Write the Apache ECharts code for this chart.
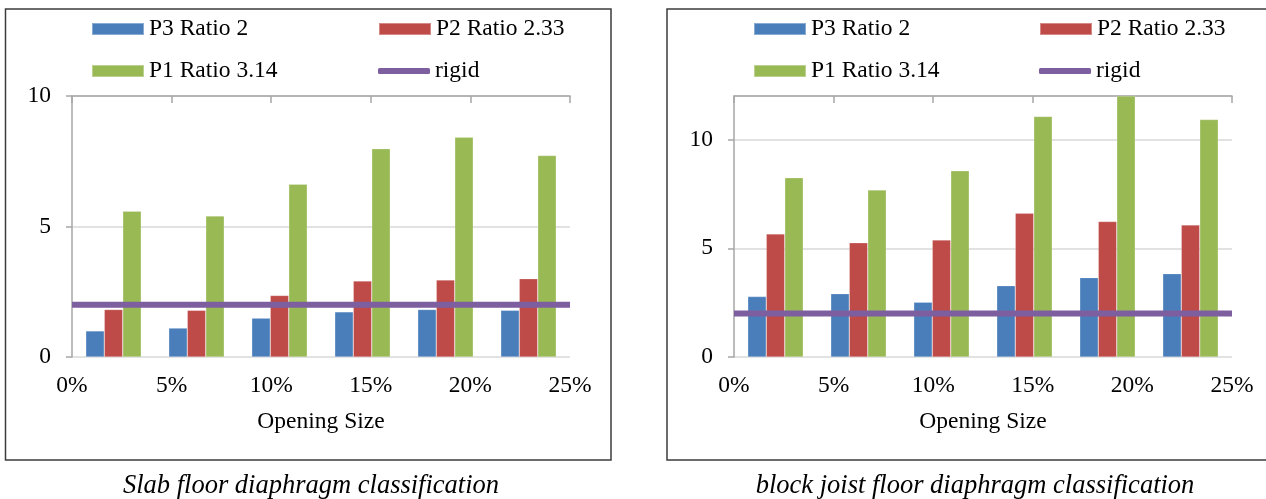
<!DOCTYPE html>
<html>
<head>
<meta charset="utf-8">
<script src="https://cdn.jsdelivr.net/npm/echarts@6/dist/echarts.min.js"></script>
<style>
  html, body { margin: 0; padding: 0; background: #fff; }
  #chart { width: 1266px; height: 499px; }
</style>
</head>
<body>
<div id="chart"></div>
<script>
// ---- data ----
const categories = ['0%', '5%', '10%', '15%', '20%', '25%'];
const seriesNames = ['P3 Ratio 2', 'P2 Ratio 2.33', 'P1 Ratio 3.14', 'rigid'];

const slabP3 = [1.00, 1.11, 1.49, 1.73, 1.82, 1.79];
const slabP2 = [1.82, 1.79, 2.36, 2.91, 2.95, 3.00];
const slabP1 = [5.59, 5.40, 6.62, 7.98, 8.42, 7.72];
const slabRigid = [2, 2, 2, 2, 2, 2];

const joistP3 = [2.78, 2.91, 2.52, 3.28, 3.65, 3.83];
const joistP2 = [5.66, 5.25, 5.38, 6.61, 6.23, 6.07];
const joistP1 = [8.24, 7.68, 8.56, 11.06, 12.0, 10.92];
const joistRigid = [2, 2, 2, 2, 2, 2];

const yTicksSlab = { min: 0, max: 10, interval: 5 };
const yTicksJoist = { min: 0, max: 12, interval: 5 };

const axisName = 'Opening Size';
const captions = ['Slab floor diaphragm classification', 'block joist floor diaphragm classification'];

// ---- style ----
const FONT = '"Liberation Serif", "Times New Roman", serif';
const colors = ['#4A7EBB', '#BE4B48', '#98B954', '#7D5FA0'];
const axisGray = '#A6A6A6';
const gridGray = '#D9D9D9';

const panels = [
  { gridLeft: 72, boxX: 5.5, capX: 311, legendX: [91, 378], y: yTicksSlab, data: [slabP3, slabP2, slabP1, slabRigid] },
  { gridLeft: 734, boxX: 667, capX: 975, legendX: [753, 1039], y: yTicksJoist, data: [joistP3, joistP2, joistP1, joistRigid] }
];

const grid = [], xAxis = [], yAxis = [], series = [], legend = [], graphic = [];

panels.forEach((p, i) => {
  grid.push({ left: p.gridLeft, top: 96, width: 498, height: 261, containLabel: false });
  // bar category axis (hidden)
  xAxis.push({
    type: 'category', data: categories, gridIndex: i, position: 'bottom',
    axisLine: { show: false, onZero: false }, axisTick: { show: false },
    axisLabel: { show: false }, splitLine: { show: false }
  });
  // top axis with ticks (line series axis)
  xAxis.push({
    type: 'category', data: categories, gridIndex: i, position: 'top', boundaryGap: false,
    axisLine: { show: true, onZero: false, lineStyle: { color: axisGray, width: 1.5 } },
    axisTick: { show: true, inside: true, length: 7, interval: 0, lineStyle: { color: axisGray, width: 1.5 } },
    axisLabel: { show: false }, splitLine: { show: false }
  });
  // bottom labels axis
  xAxis.push({
    type: 'category', data: categories, gridIndex: i, position: 'bottom', boundaryGap: false,
    axisLine: { show: false, onZero: false }, axisTick: { show: false },
    axisLabel: { show: true, interval: 0, margin: 17, color: '#000', fontSize: 23.5, fontFamily: FONT },
    splitLine: { show: false },
    name: axisName, nameLocation: 'middle', nameGap: 53,
    nameTextStyle: { color: '#000', fontSize: 23.5, fontFamily: FONT }
  });
  yAxis.push({
    type: 'value', gridIndex: i, min: p.y.min, max: p.y.max, interval: p.y.interval,
    axisLine: { show: true, lineStyle: { color: axisGray, width: 1.5 } },
    axisTick: { show: true, length: 6, lineStyle: { color: axisGray, width: 1.5 } },
    axisLabel: { margin: 21, color: '#000', fontSize: 23.5, fontFamily: FONT, showMaxLabel: p.y.max % p.y.interval === 0 },
    splitLine: { show: true, lineStyle: { color: gridGray, width: 1.5 } }
  });
  for (let s = 0; s < 3; s++) {
    series.push({
      name: seriesNames[s], type: 'bar', xAxisIndex: i * 3, yAxisIndex: i,
      data: p.data[s], barWidth: 18.5, barGap: '0%',
      itemStyle: { color: colors[s], borderColor: 'rgba(255,255,255,0.35)', borderWidth: 0.6 },
      clip: true
    });
  }
  series.push({
    name: seriesNames[3], type: 'line', xAxisIndex: i * 3 + 1, yAxisIndex: i,
    data: p.data[3], symbol: 'none', lineStyle: { color: colors[3], width: 6 },
    itemStyle: { color: colors[3] }, z: 5
  });

  const legendBase = {
    orient: 'horizontal', padding: 0, itemWidth: 52, itemHeight: 12,
    textStyle: { color: '#000', fontSize: 23.5, fontFamily: FONT }, selectedMode: false
  };
  legend.push(Object.assign({}, legendBase, { left: p.legendX[0], top: 17, data: [{ name: seriesNames[0], icon: 'rect' }] }));
  legend.push(Object.assign({}, legendBase, { left: p.legendX[1], top: 17, data: [{ name: seriesNames[1], icon: 'rect' }] }));
  legend.push(Object.assign({}, legendBase, { left: p.legendX[0], top: 59, data: [{ name: seriesNames[2], icon: 'rect' }] }));
  legend.push(Object.assign({}, legendBase, { left: p.legendX[1], top: 59, itemHeight: 6, data: [{ name: seriesNames[3], icon: 'roundRect' }] }));

  graphic.push({
    type: 'rect', silent: true, z: 0,
    shape: { x: p.boxX, y: 9, width: 605.5, height: 451 },
    style: { fill: 'none', stroke: '#3C3C3C', lineWidth: 1.5 }
  });
  graphic.push({
    type: 'text', silent: true, x: p.capX, y: 486,
    style: { text: captions[i], fill: '#000', font: 'italic 26.5px ' + FONT, textAlign: 'center', textVerticalAlign: 'middle' }
  });
});

const chart = echarts.init(document.getElementById('chart'), null, { renderer: 'canvas' });
chart.setOption({
  animation: false,
  backgroundColor: '#fff',
  grid, xAxis, yAxis, series, legend, graphic
});
</script>
</body>
</html>
